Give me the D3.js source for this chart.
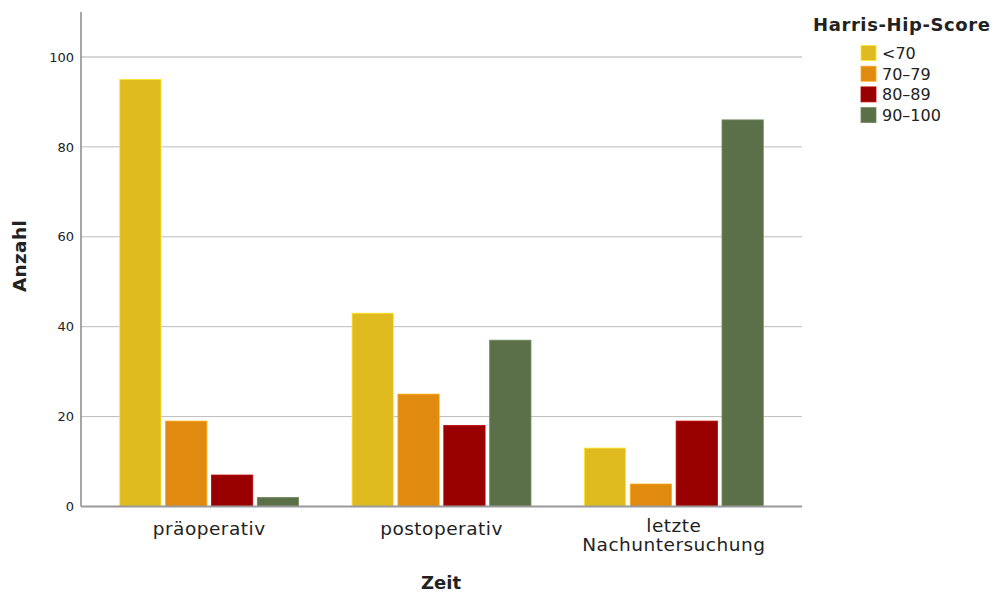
<!DOCTYPE html>
<html><head><meta charset="utf-8">
<script src="https://cdn.jsdelivr.net/npm/d3@7"></script>
<style>body{margin:0;background:#fff}svg{display:block}text{font-family:"DejaVu Sans",sans-serif;fill:#222}</style>
</head><body><svg id="c" width="994" height="594"></svg>
<script>
const categories = ["präoperativ", "postoperativ", "letzte\nNachuntersuchung"];
const seriesNames = ["<70", "70–79", "80–89", "90–100"];
const seriesColors = ["#e0bb20", "#e08a10", "#990000", "#5b7049"];
const valuesLt70 = [95, 43, 13];
const values7079 = [19, 25, 5];
const values8089 = [7, 18, 19];
const values90100 = [2, 37, 86];
const yTicks = [0, 20, 40, 60, 80, 100];
const series = [valuesLt70, values7079, values8089, values90100];

(function () {
const svg = d3.select("#c");
const pLeft = 81, pRight = 802, pTop = 12, pBottom = 506.5;
const y = d3.scaleLinear().domain([0, 110]).range([pBottom, pTop]);
const x0 = d3.scaleBand().domain(categories).range([93, 790]).paddingInner(0.23).paddingOuter(0.115);
const x1 = d3.scaleBand().domain(seriesNames).range([0, x0.bandwidth()]).paddingInner(0.1).paddingOuter(0);

// gridlines
svg.append("g").selectAll("line").data(yTicks.filter(d => d > 0)).join("line")
  .attr("x1", pLeft).attr("x2", pRight).attr("y1", d => y(d)).attr("y2", d => y(d))
  .attr("stroke", d => d === 100 ? "#d6d6d6" : "#bcbcbc").attr("stroke-width", d => d === 100 ? 2 : 1);

// bars
const g = svg.append("g");
categories.forEach((c, ci) => {
  series.forEach((s, si) => {
    g.append("rect")
      .attr("x", x0(c) + x1(seriesNames[si]))
      .attr("y", y(s[ci]))
      .attr("width", x1.bandwidth())
      .attr("height", pBottom - y(s[ci]))
      .attr("fill", seriesColors[si])
      .attr("stroke", d3.color(seriesColors[si]).brighter(0.6))
      .attr("stroke-width", 0.8);
  });
});

// y axis
const yAxis = d3.axisLeft(y).tickValues(yTicks).tickSize(0).tickPadding(7);
const ya = svg.append("g").attr("transform", `translate(${pLeft},0)`).call(yAxis);
ya.select(".domain").attr("d", `M0,${pTop}V${pBottom}`).attr("stroke", "#888").attr("stroke-width", 1.5);
ya.selectAll(".tick text").attr("font-size", 13).attr("font-family", "DejaVu Sans").attr("fill", "#222");

// x axis
svg.append("line").attr("x1", pLeft).attr("x2", pRight).attr("y1", pBottom).attr("y2", pBottom)
  .attr("stroke", "#999").attr("stroke-width", 2);
const xl = svg.append("g");
categories.forEach(c => {
  const lines = c.split("\n");
  const cx = x0(c) + x0.bandwidth() / 2;
  const t = xl.append("text").attr("x", cx).attr("y", lines.length > 1 ? 532 : 535)
    .attr("text-anchor", "middle").attr("font-size", 18.5).attr("letter-spacing", 0.5);
  lines.forEach((l, i) => t.append("tspan").attr("x", cx).attr("dy", i === 0 ? 0 : 19).text(l));
});

// axis titles
svg.append("text").attr("x", 441).attr("y", 589).attr("text-anchor", "middle")
  .attr("font-size", 18).attr("font-weight", "bold").text("Zeit");
svg.append("text").attr("transform", "translate(26,256) rotate(-90)").attr("text-anchor", "middle")
  .attr("font-size", 18.5).attr("font-weight", "bold").attr("letter-spacing", 0.3).text("Anzahl");

// legend
svg.append("text").attr("x", 813).attr("y", 31).attr("font-size", 18).attr("font-weight", "bold")
  .attr("letter-spacing", 0.6).text("Harris-Hip-Score");
const lg = svg.append("g");
seriesNames.forEach((n, i) => {
  const cy = 53 + i * 20.7;
  lg.append("rect").attr("x", 861).attr("y", cy - 7.5).attr("width", 15).attr("height", 15).attr("fill", seriesColors[i])
    .attr("stroke", d3.color(seriesColors[i]).brighter(0.6)).attr("stroke-width", 0.8);
  lg.append("text").attr("x", 882).attr("y", cy + 6).attr("font-size", 16).text(n);
});
})();
</script></body></html>
